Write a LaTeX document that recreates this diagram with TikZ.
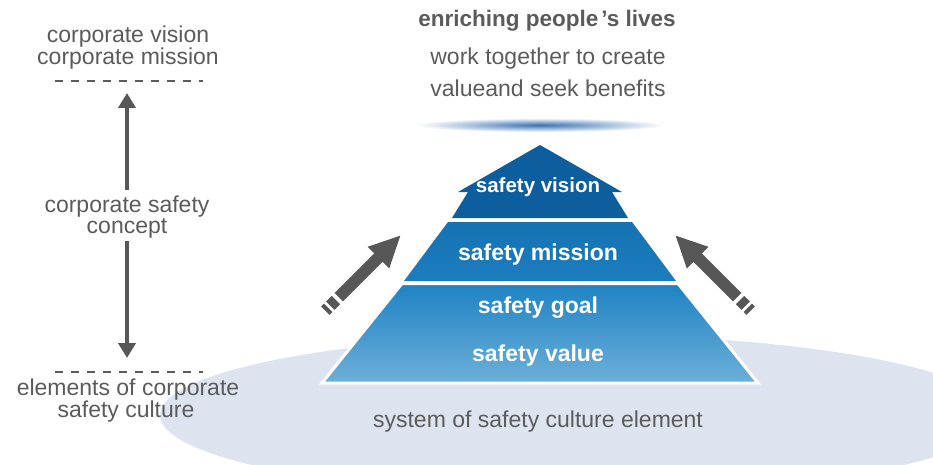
\documentclass[tikz,border=0pt]{standalone}
\usepackage{fontspec}
\setmainfont{Liberation Sans}
\usetikzlibrary{arrows.meta}
\definecolor{txtgray}{HTML}{5B5B5B}
\definecolor{arrgray}{HTML}{575757}
\definecolor{floorblue}{HTML}{DEE4EF}
\definecolor{visionblue}{HTML}{0D5E9E}
\definecolor{missiontop}{HTML}{1672B2}
\definecolor{missionbot}{HTML}{1C7DBE}
\definecolor{basetop}{HTML}{1E83C3}
\definecolor{basebot}{HTML}{6DAFD9}
\definecolor{glowblue}{HTML}{3A72B6}
\begin{document}
\begin{tikzpicture}[x=1pt,y=-1pt,
  lbl/.style={text=txtgray,font=\fontsize{23}{22}\selectfont,anchor=base,inner sep=0pt},
  toplbl/.style={lbl,font=\bfseries\fontsize{22.5}{22}\selectfont},
  tierlbl/.style={text=white,font=\bfseries\fontsize{23}{23}\selectfont,anchor=base,inner sep=0pt},
  dashline/.style={txtgray,line width=2pt,dash pattern=on 8pt off 8pt},
  thinarrow/.style={arrgray,line width=4pt,-{Triangle[length=15pt,width=17pt]}},
  fatarrow/.style={arrgray,line width=12pt,-{Triangle[length=32pt,width=28pt]}},
  fatband/.style={arrgray,line width=12pt}]
\useasboundingbox (0,0) rectangle (933,465);
%%% the floor below the pyramid
\begin{scope}
\clip (0,0) rectangle (933,465);
\fill[floorblue] (578,415) ellipse (418 and 80);
\end{scope}
%%% glow above the pyramid
\shade[inner color=glowblue,outer color=white] (540,125) ellipse (124 and 7);
%
%%% the three tiers of the pyramid
\fill[visionblue] (540,145) -- (622,192) -- (612,192) -- (628,218) -- (452,218)
  -- (468,192) -- (458,192) -- cycle;
\path[top color=missiontop,bottom color=missionbot] (448,222) -- (632,222) -- (676,281)
  -- (404,281) -- cycle;
\path[draw=white,line width=3pt,top color=basetop,bottom color=basebot]
  (402,283.5) -- (678,283.5) -- (758,383) -- (322,383) -- cycle;
\node[tierlbl,font=\bfseries\fontsize{20.5}{20}\selectfont] (vision) at (538,193) {safety vision};
\node[tierlbl] (mission) at (538,260) {safety mission};
\node[tierlbl] (goal) at (538,313) {safety goal};
\node[tierlbl] (value) at (538,361) {safety value};
%
%%% texts on the right
\node[toplbl] (lives) at (547,27) {enriching people\kern3pt’s lives};
\node[lbl] (work) at (548,65) {work together to create};
\node[lbl] (benefit) at (548,97) {valueand seek benefits};
\node[lbl] (system) at (538,427) {system of safety culture element};
%
%%% the two fat arrows beside the pyramid
\coordinate (ltip) at (401,235);
\draw[fatarrow] (338.8,297.2) -- (ltip);
\draw[fatband] (335.9,300.1) -- (330.3,305.7);
\draw[fatband] (328.2,307.8) -- (325.3,310.7);
\coordinate (rtip) at (675,235);
\draw[fatarrow] (737.2,297.2) -- (rtip);
\draw[fatband] (740.1,300.1) -- (745.7,305.7);
\draw[fatband] (747.8,307.8) -- (750.7,310.7);
%
%%% the scale on the left
\node[lbl] (vision1) at (128,43) {corporate vision};
\node[lbl] (mission1) at (128,65) {corporate mission};
\draw[dashline] (55,81) -- (203,81);
\node[lbl] (concept1) at (127,212) {corporate safety};
\node[lbl] (concept2) at (127,233) {concept};
\coordinate (uptip) at (127,93);
\coordinate (downtip) at (127,358);
\draw[thinarrow,shorten <=5pt] (concept1.north) -- (uptip);
\draw[thinarrow,shorten <=3pt] (concept2.south) -- (downtip);
\draw[dashline] (55,372) -- (203,372);
\node[lbl] (elements1) at (128,395) {elements of corporate};
\node[lbl] (elements2) at (126,417) {safety culture};
\end{tikzpicture}
\end{document}
